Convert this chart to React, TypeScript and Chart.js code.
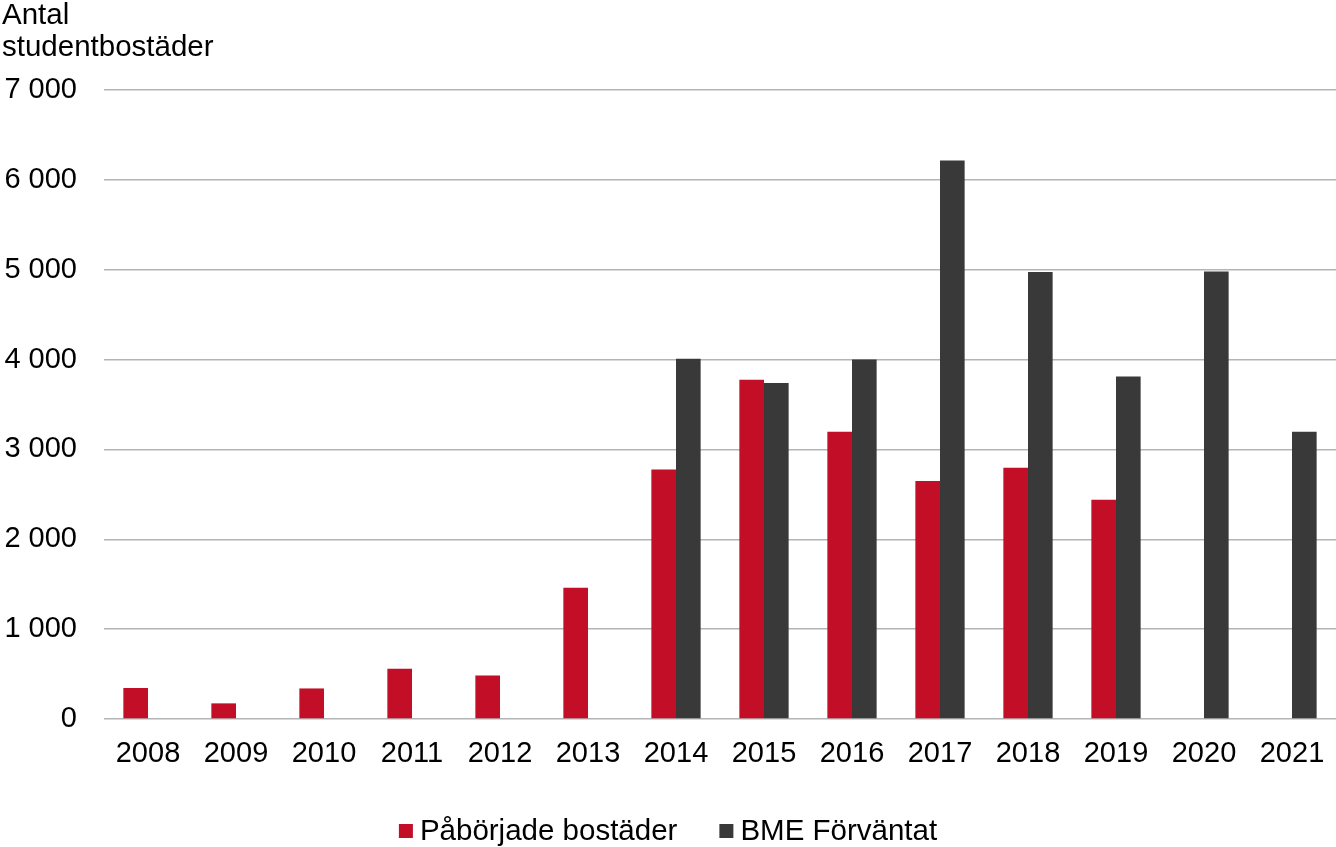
import { useEffect, useRef } from "react";
import { Chart, registerables } from "chart.js";

Chart.register(...registerables);

// årtal på x-axeln
const years = ["2008", "2009", "2010", "2011", "2012", "2013", "2014", "2015", "2016", "2017", "2018", "2019", "2020", "2021"];

// påbörjade studentbostäder
const paborjade = [345, 174, 340, 560, 485, 1461, 2778, 3776, 3197, 2648, 2797, 2440, null, null];

// BME förväntat
const bmeForvantat = [null, null, null, null, null, null, 4010, 3739, 4002, 6216, 4974, 3813, 4981, 3197];

const yTicks = [0, 1000, 2000, 3000, 4000, 5000, 6000, 7000];

const FONT = "'Liberation Sans', Arial, sans-serif";

const fmt = (v: number) => String(v).replace(/\B(?=(\d{3})+(?!\d))/g, " ");

// enkel legend under diagrammet (Excel-stil, liten ruta tätt intill texten)
const bottomLegend = {
  id: "bottomLegend",
  afterDraw(chart: any) {
    const { ctx, width } = chart;
    const box = 14;
    const gap = 7;
    const spacing = 42;
    const yMid = 831;
    ctx.save();
    ctx.font = `29.5px ${FONT}`;
    ctx.textBaseline = "middle";
    const items = chart.data.datasets.map((ds: any) => ({
      text: ds.label,
      color: ds.backgroundColor,
      w: ctx.measureText(ds.label).width,
    }));
    const total =
      items.reduce((s: number, it: any) => s + box + gap + it.w, 0) + spacing * (items.length - 1);
    let x = width / 2 - total / 2;
    items.forEach((it: any) => {
      ctx.fillStyle = it.color;
      ctx.fillRect(x, yMid - box / 2, box, box);
      x += box + gap;
      ctx.fillStyle = "#000";
      ctx.fillText(it.text, x, yMid + 1);
      x += it.w + spacing;
    });
    ctx.restore();
  },
};

export default function App() {
  const canva = useRef<HTMLCanvasElement | null>(null);

  useEffect(() => {
    document.body.style.margin = "0";
    if (!canva.current) return;

    const chartInstance = new Chart(canva.current, {
      type: "bar",
      data: {
        labels: years,
        datasets: [
          {
            label: "Påbörjade bostäder",
            data: paborjade,
            backgroundColor: "#C20E27",
            barPercentage: 1,
            categoryPercentage: 0.56,
          },
          {
            label: "BME Förväntat",
            data: bmeForvantat,
            backgroundColor: "#393939",
            barPercentage: 1,
            categoryPercentage: 0.56,
          },
        ],
      },
      plugins: [bottomLegend],
      options: {
        animation: false,
        responsive: true,
        maintainAspectRatio: false,
        layout: { padding: { left: 2, right: 0, top: 0, bottom: 76 } },
        plugins: {
          tooltip: { enabled: false },
          legend: { display: false },
          title: {
            display: true,
            text: ["Antal", "studentbostäder"],
            align: "start",
            color: "#000",
            font: { family: FONT, size: 29.5, weight: "normal", lineHeight: 1.085 },
            padding: { top: 0, bottom: 26 },
          },
        },
        scales: {
          x: {
            afterFit: (scale: any) => {
              scale.height = 52;
            },
            grid: {
              display: true,
              color: "rgba(0,0,0,0)",
              drawOnChartArea: false,
              drawTicks: true,
              tickLength: 15,
            },
            border: { display: false },
            ticks: {
              color: "#000",
              font: { family: FONT, size: 29 },
              padding: 3,
              maxRotation: 0,
            },
          },
          y: {
            min: 0,
            max: 7000,
            afterFit: (scale: any) => {
              scale.width = 102;
            },
            afterBuildTicks: (scale: any) => {
              scale.ticks = yTicks.map((v) => ({ value: v }));
            },
            grid: { color: "#b4b4b4", lineWidth: 1.5, drawTicks: false },
            border: { display: false },
            ticks: {
              color: "#000",
              font: { family: FONT, size: 29 },
              padding: 27,
              callback: (v: any) => fmt(Number(v)),
            },
          },
        },
      },
    });

    return () => {
      chartInstance.destroy();
    };
  }, []);

  return (
    <div style={{ position: "relative", width: 1336, height: 847 }}>
      <canvas ref={canva} />
    </div>
  );
}
